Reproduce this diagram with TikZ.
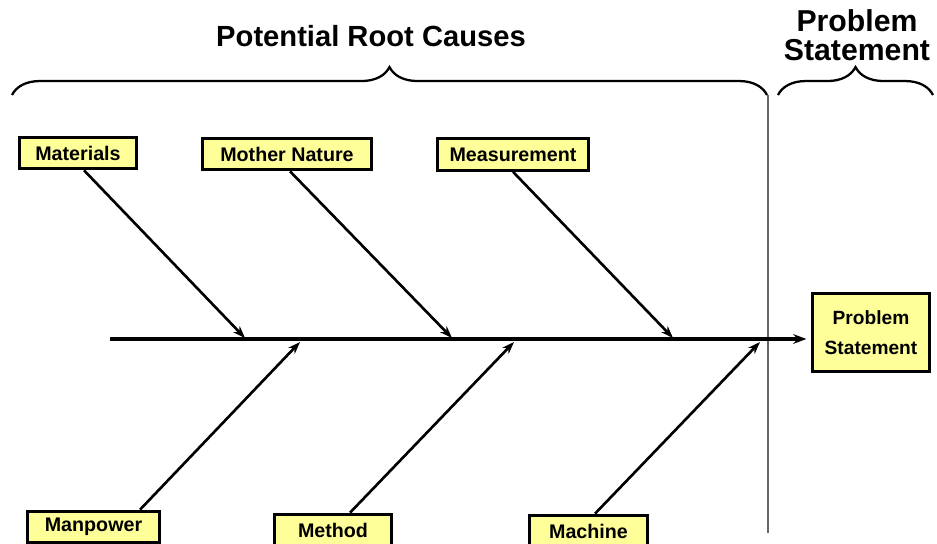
\documentclass[tikz,border=0pt]{standalone}
\usepackage{fontspec}
\setmainfont{Liberation Sans}
\usepackage{xcolor}
\usepackage{tikz}
\usetikzlibrary{arrows.meta}
\usetikzlibrary{calc}
\usetikzlibrary{decorations.pathreplacing}

\definecolor{causefill}{RGB}{255,255,153}

\begin{document}
\begin{tikzpicture}[x=0.02cm,y=-0.02cm,
    cause/.style={draw,line width=1.6pt,fill=causefill,minimum height=18.1pt,
      inner sep=0pt,font=\fontsize{11.2}{13}\selectfont\bfseries},
    bone/.style={line width=1.5pt,-{Stealth[length=7pt,width=5pt]}},
    spine/.style={line width=1.8pt,-{Stealth[length=7.5pt,width=5.5pt]}},
    brc/.style={line width=1.3pt,decorate,decoration={brace,amplitude=15.9pt}},
    heading/.style={inner sep=0pt,font=\fontsize{16.6}{15.5}\selectfont\bfseries}]
    \useasboundingbox (0,0) rectangle (937,544);
    \node[heading] (roots) at (371,36) {Potential Root Causes};
    \node[heading,align=center,font=\fontsize{17.2}{16.4}\selectfont\bfseries]
      (pstitle) at (857,35) {Problem\\Statement};
    \draw[brc] (12,95) -- (767,95);
    \draw[brc] (778,95) -- (933,95);
    \draw[black!60,line width=0.7pt] (768,95) -- (768,533);
    \node[cause,minimum width=66.9pt] (mat) at (78,153) {Materials};
    \node[cause,minimum width=96.4pt] (nat) at (287,154) {Mother Nature};
    \node[cause,minimum width=86.2pt] (meas) at (513,154.5) {Measurement};
    \node[cause,minimum width=75.4pt] (man) at (93.5,527) {Manpower};
    \node[cause,minimum width=66.9pt] (meth) at (333,530) {Method};
    \node[cause,minimum width=67.5pt] (mach) at (588.5,531) {Machine};
    \node[cause,minimum width=66.9pt,minimum height=44.8pt,align=center,
      font=\fontsize{10.9}{17}\selectfont\bfseries] (ps) at (871,332.5) {Problem\\Statement};
    \coordinate (tail) at (110,339);
    \coordinate (t1) at (245,338);
    \coordinate (t2) at (452,338);
    \coordinate (t3) at (673,338);
    \coordinate (b1) at (300,342);
    \coordinate (b2) at (514,342);
    \coordinate (b3) at (760,342);
    \draw[spine,shorten >=2.5pt] (tail) -- (tail -| ps.west);
    \draw[bone] ($(mat.south)+(6,0)$) -- (t1);
    \draw[bone] ($(nat.south)+(3,0)$) -- (t2);
    \draw[bone] (meas.south) -- (t3);
    \draw[bone] ($(man.north)+(46.5,0)$) -- (b1);
    \draw[bone] ($(meth.north)+(17,0)$) -- (b2);
    \draw[bone] ($(mach.north)+(6.5,0)$) -- (b3);
\end{tikzpicture}
\end{document}
